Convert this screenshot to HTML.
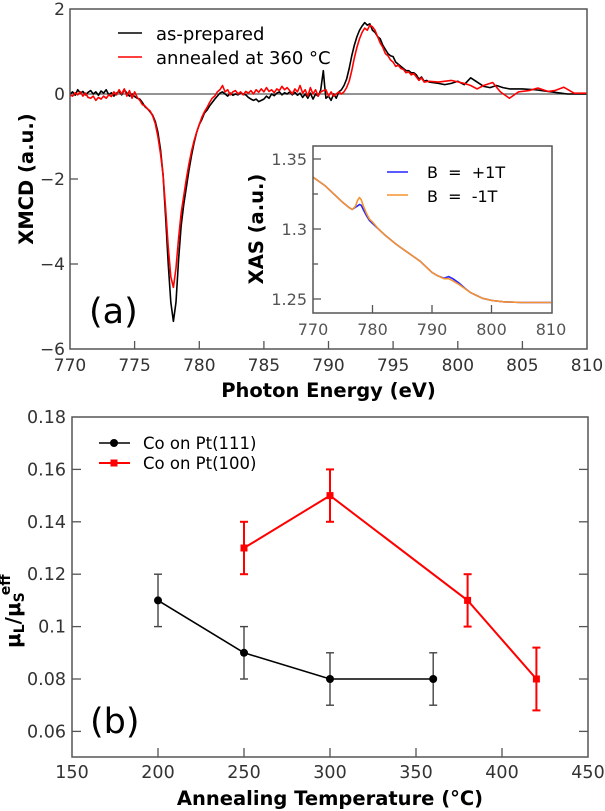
<!DOCTYPE html>
<html><head><meta charset="utf-8"><style>
html,body{margin:0;padding:0;background:#fff;}
svg{display:block;}
text{font-family:"DejaVu Sans","Liberation Sans",sans-serif;}
</style></head><body>
<svg width="605" height="811" viewBox="0 0 605 811" xmlns="http://www.w3.org/2000/svg">
<rect x="0" y="0" width="605" height="811" fill="#fff"/>

<!-- ===== Top panel (a) ===== -->
<line x1="70" y1="94" x2="587" y2="94" stroke="#555" stroke-width="1.2"/>
<g transform="translate(70,94) scale(12.925,-42.5) translate(-770,0)" fill="none" stroke-linejoin="round">
<polyline vector-effect="non-scaling-stroke" stroke="#000" stroke-width="1.6" points="770,0 770.2,0.05 770.4,-0.03 770.6,0.1 770.8,0.02 771,0.06 771.2,-0.02 771.4,0.04 771.6,0.08 771.8,0 772,0.05 772.2,-0.03 772.4,0.07 772.6,0.02 772.8,0.1 773,-0.02 773.2,0.03 773.4,-0.05 773.6,0.02 773.8,0.06 774,-0.02 774.2,0.1 774.4,0.02 774.6,-0.05 774.8,0 775,-0.06 775.2,-0.1 775.4,-0.12 775.6,-0.2 775.8,-0.3 776,-0.35 776.2,-0.42 776.4,-0.5 776.6,-0.65 776.8,-0.9 777,-1.3 777.2,-1.9 777.4,-2.9 777.6,-4.0 777.8,-4.9 778,-5.35 778.2,-4.9 778.4,-3.9 778.6,-3.1 778.8,-2.6 779,-2.2 779.2,-1.8 779.4,-1.45 779.6,-1.15 779.8,-0.9 780,-0.72 780.2,-0.6 780.4,-0.45 780.6,-0.38 780.8,-0.28 781,-0.2 781.2,-0.12 781.4,-0.05 781.6,0.02 781.8,0.05 782,0 782.2,-0.05 782.4,0.02 782.6,-0.03 782.8,0 783,-0.02 783.2,0.03 783.4,0 783.6,-0.02 783.8,-0.08 784,-0.12 784.2,-0.15 784.4,-0.12 784.6,-0.18 784.8,-0.15 785,-0.12 785.2,-0.05 785.4,-0.1 785.6,0 785.8,-0.04 786,0.02 786.2,0.05 786.4,-0.02 786.6,0.03 786.8,0 787,0.05 787.2,-0.02 787.4,0.04 787.6,-0.03 787.8,0.02 788,-0.08 788.2,0 788.4,-0.1 788.6,0.02 788.8,-0.12 789,0 789.2,-0.05 789.4,0.1 789.6,0.55 789.7,0.2 789.8,-0.1 790,-0.05 790.2,-0.15 790.4,0 790.6,-0.1 790.8,0.05 791,0.1 791.2,0.2 791.4,0.35 791.6,0.6 791.8,0.9 792,1.15 792.2,1.35 792.4,1.5 792.6,1.6 792.8,1.68 793,1.62 793.2,1.65 793.4,1.5 793.6,1.45 793.8,1.35 794,1.3 794.2,1.15 794.4,1.05 794.6,0.95 794.8,0.9 795,0.88 795.2,0.75 795.4,0.7 795.6,0.65 795.8,0.6 796,0.55 796.2,0.55 796.4,0.5 796.6,0.5 796.8,0.45 797,0.35 797.2,0.4 797.4,0.3 797.6,0.32 797.8,0.28 798.5,0.25 799,0.22 799.5,0.25 800,0.3 800.5,0.22 801,0.38 801.5,0.28 802,0.18 802.5,0.15 803,0.2 803.5,0.15 804,0.12 805,0.12 806,0.1 807,0.06 808,0.02 808.5,0 809,0 810,0"/>
<polyline vector-effect="non-scaling-stroke" stroke="#ff0000" stroke-width="1.6" points="770,-0.02 770.2,-0.05 770.4,0.03 770.6,-0.02 770.8,0.05 771,-0.05 771.2,0.02 771.4,-0.08 771.6,-0.1 771.8,-0.05 772,-0.15 772.2,-0.08 772.4,-0.12 772.6,-0.05 772.8,-0.1 773,-0.02 773.2,-0.06 773.4,0.05 773.6,-0.02 773.8,0.1 774,0 774.2,0.12 774.4,-0.05 774.6,0.08 774.8,-0.1 775,0.05 775.2,-0.08 775.4,-0.15 775.6,-0.25 775.8,-0.28 776,-0.35 776.2,-0.4 776.4,-0.52 776.6,-0.7 776.8,-1.0 777,-1.4 777.2,-1.9 777.4,-2.7 777.6,-3.6 777.8,-4.3 778,-4.55 778.2,-4.1 778.4,-3.4 778.6,-2.8 778.8,-2.4 779,-2.0 779.2,-1.65 779.4,-1.35 779.6,-1.1 779.8,-0.9 780,-0.72 780.2,-0.55 780.4,-0.42 780.6,-0.32 780.8,-0.2 781,-0.1 781.2,-0.05 781.4,0.05 781.6,0.1 781.8,0.2 782,0.05 782.2,0.1 782.4,-0.02 782.6,0.05 782.8,0.08 783,0 783.2,0.05 783.4,-0.02 783.6,0.06 783.8,0.02 784,0.08 784.2,0 784.4,0.1 784.6,0.04 784.8,0.12 785,0.05 785.2,0.15 785.4,0.06 785.6,0.1 785.8,0.03 786,0.12 786.2,0.08 786.4,0.18 786.6,0.1 786.8,0.15 787,0.08 787.2,0 787.4,0.12 787.6,0.05 787.8,0.2 788,0.02 788.2,0.1 788.4,-0.05 788.6,0.15 788.8,0 789,0.1 789.2,-0.05 789.4,0.05 789.6,0.08 789.8,0.1 790,-0.05 790.2,0.05 790.4,-0.05 790.6,0 790.8,0.05 791,0 791.2,0.05 791.4,0.15 791.6,0.3 791.8,0.55 792,0.85 792.2,1.1 792.4,1.3 792.6,1.45 792.8,1.55 793,1.5 793.2,1.62 793.4,1.58 793.6,1.5 793.8,1.35 794,1.2 794.2,1.1 794.4,0.95 794.6,0.9 794.8,0.8 795,0.75 795.2,0.65 795.4,0.68 795.6,0.6 795.8,0.58 796,0.5 796.2,0.52 796.4,0.45 796.6,0.48 796.8,0.4 797,0.32 797.2,0.38 797.4,0.28 797.8,0.3 798.5,0.28 799.5,0.32 800.5,0.25 801,0.2 801.5,0.12 802,0.2 802.7,0.27 803.3,0.05 804,-0.1 804.7,0.05 805.5,0.08 806.2,0.14 807,0.06 807.5,0.08 808.2,0.16 809,0.02 810,0.02"/>
</g>
<!-- frame -->
<rect x="70" y="9" width="517" height="340" fill="none" stroke="#555" stroke-width="1.5"/>
<!-- ticks -->
<g stroke="#555" stroke-width="1.3">
<line x1="70" y1="179" x2="78" y2="179"/><line x1="70" y1="264" x2="78" y2="264"/>
<line x1="134.6" y1="349" x2="134.6" y2="341"/><line x1="199.3" y1="349" x2="199.3" y2="341"/>
<line x1="263.9" y1="349" x2="263.9" y2="341"/><line x1="328.5" y1="349" x2="328.5" y2="341"/>
<line x1="393.1" y1="349" x2="393.1" y2="341"/><line x1="457.8" y1="349" x2="457.8" y2="341"/>
<line x1="522.4" y1="349" x2="522.4" y2="341"/>
</g>
<g font-size="17" fill="#333" text-anchor="end">
<text x="65" y="15">2</text><text x="65" y="100">0</text><text x="65" y="185">−2</text><text x="65" y="270">−4</text><text x="65" y="355">−6</text>
</g>
<g font-size="17" fill="#333" text-anchor="middle">
<text x="70" y="371">770</text><text x="134.6" y="371">775</text><text x="199.3" y="371">780</text><text x="263.9" y="371">785</text><text x="328.5" y="371">790</text><text x="393.1" y="371">795</text><text x="457.8" y="371">800</text><text x="522.4" y="371">805</text><text x="587" y="371">810</text>
</g>
<text x="328.5" y="397" font-size="19.5" font-weight="bold" text-anchor="middle" fill="#000">Photon Energy (eV)</text>
<text transform="translate(33,179) rotate(-90)" font-size="19.5" font-weight="bold" text-anchor="middle" fill="#000">XMCD (a.u.)</text>
<text x="89" y="323" font-size="35" fill="#000">(a)</text>
<!-- legend top -->
<line x1="118" y1="33" x2="142" y2="33" stroke="#000" stroke-width="1.6"/>
<line x1="118" y1="57" x2="142" y2="57" stroke="#ff0000" stroke-width="1.6"/>
<text x="156" y="40" font-size="18" fill="#000">as-prepared</text>
<text x="156" y="64" font-size="18" fill="#000">annealed at 360 °C</text>

<!-- ===== Inset ===== -->
<rect x="313" y="146" width="239" height="167" fill="#fff"/>
<g transform="translate(313,159) scale(5.95,-1400) translate(-770,-1.35)" fill="none" stroke-linejoin="round">
<polyline vector-effect="non-scaling-stroke" stroke="#2424ff" stroke-width="1.6" points="770,1.337 771,1.334 772,1.331 773,1.327 774,1.323 775,1.319 776,1.3155 776.6,1.314 777.1,1.3155 777.5,1.3165 777.8,1.3175 778.1,1.317 778.5,1.3135 779,1.3095 779.5,1.306 780,1.304 781,1.3 782,1.296 783,1.2925 784,1.289 785,1.286 786,1.283 787,1.28 788,1.277 789,1.273 790,1.269 791,1.2665 792,1.2648 792.8,1.266 793.5,1.2645 794.5,1.2615 795.5,1.2578 796.5,1.2545 797.5,1.2525 798.5,1.2505 800,1.249 802,1.248 805,1.2475 810,1.2475"/>
<polyline vector-effect="non-scaling-stroke" stroke="#f5922f" stroke-width="1.6" points="770,1.337 771,1.334 772,1.331 773,1.327 774,1.323 775,1.319 776,1.3155 776.6,1.314 777.1,1.316 777.5,1.3205 777.8,1.3225 778.1,1.321 778.5,1.316 779,1.311 779.5,1.307 780,1.305 781,1.3 782,1.296 783,1.2925 784,1.289 785,1.286 786,1.283 787,1.28 788,1.277 789,1.273 790,1.269 791,1.2665 792,1.2645 792.8,1.2645 793.5,1.263 794.5,1.2605 795.5,1.2575 796.5,1.2545 797.5,1.2525 798.5,1.2505 800,1.249 802,1.248 805,1.2475 810,1.2475"/>
</g>
<rect x="313" y="146" width="239" height="167" fill="none" stroke="#555" stroke-width="1.5"/>
<g stroke="#555" stroke-width="1.3">
<line x1="313" y1="159" x2="321" y2="159"/><line x1="313" y1="229" x2="321" y2="229"/><line x1="313" y1="299" x2="321" y2="299"/>
<line x1="313" y1="194" x2="318" y2="194"/><line x1="313" y1="264" x2="318" y2="264"/>
<line x1="372.5" y1="313" x2="372.5" y2="305"/><line x1="432" y1="313" x2="432" y2="305"/><line x1="491.5" y1="313" x2="491.5" y2="305"/>
</g>
<g font-size="16" fill="#555" text-anchor="end">
<text x="307" y="165">1.35</text><text x="307" y="235">1.3</text><text x="307" y="305">1.25</text>
</g>
<g font-size="16" fill="#555" text-anchor="middle">
<text x="313" y="335">770</text><text x="372.5" y="335">780</text><text x="432" y="335">790</text><text x="491.5" y="335">800</text><text x="551" y="335">810</text>
</g>
<text transform="translate(263,229) rotate(-90)" font-size="19.5" font-weight="bold" text-anchor="middle" fill="#000">XAS (a.u.)</text>
<line x1="387" y1="172" x2="408" y2="172" stroke="#2424ff" stroke-width="1.6"/>
<line x1="387" y1="195" x2="408" y2="195" stroke="#f5922f" stroke-width="1.6"/>
<text x="427" y="178" font-size="16" fill="#000" style="white-space:pre" xml:space="preserve">B  =  +1T</text>
<text x="427" y="202" font-size="16" fill="#000" style="white-space:pre" xml:space="preserve">B  =  -1T</text>

<!-- ===== Bottom panel (b) ===== -->
<rect x="72" y="417" width="516" height="340" fill="none" stroke="#555" stroke-width="1.5"/>
<g stroke="#555" stroke-width="1.3">
<line x1="72" y1="469.4" x2="81" y2="469.4"/><line x1="72" y1="521.8" x2="81" y2="521.8"/><line x1="72" y1="574.2" x2="81" y2="574.2"/><line x1="72" y1="626.6" x2="81" y2="626.6"/><line x1="72" y1="679" x2="81" y2="679"/><line x1="72" y1="731.4" x2="81" y2="731.4"/>
<line x1="588" y1="469.4" x2="579" y2="469.4"/><line x1="588" y1="521.8" x2="579" y2="521.8"/><line x1="588" y1="574.2" x2="579" y2="574.2"/><line x1="588" y1="626.6" x2="579" y2="626.6"/><line x1="588" y1="679" x2="579" y2="679"/><line x1="588" y1="731.4" x2="579" y2="731.4"/>
<line x1="158" y1="757" x2="158" y2="748"/><line x1="244" y1="757" x2="244" y2="748"/><line x1="330" y1="757" x2="330" y2="748"/><line x1="416" y1="757" x2="416" y2="748"/><line x1="502" y1="757" x2="502" y2="748"/>
</g>
<g font-size="17.5" fill="#333" text-anchor="end">
<text x="66" y="423">0.18</text><text x="66" y="475.4">0.16</text><text x="66" y="527.8">0.14</text><text x="66" y="580.2">0.12</text><text x="66" y="632.6">0.1</text><text x="66" y="685">0.08</text><text x="66" y="737.4">0.06</text>
</g>
<g font-size="17.5" fill="#333" text-anchor="middle">
<text x="72" y="778">150</text><text x="158" y="778">200</text><text x="244" y="778">250</text><text x="330" y="778">300</text><text x="416" y="778">350</text><text x="502" y="778">400</text><text x="588" y="778">450</text>
</g>
<text x="330" y="805" font-size="19.5" font-weight="bold" text-anchor="middle" fill="#000">Annealing Temperature (°C)</text>
<text transform="translate(20,648) rotate(-90)" font-size="20" font-weight="bold" fill="#000">μ<tspan font-size="14" dy="4">L</tspan><tspan dy="-4">/μ</tspan><tspan font-size="14" dy="4">S</tspan><tspan font-size="14" dx="-3" dy="-14">eff</tspan></text>
<text x="90" y="733" font-size="35" fill="#000">(b)</text>

<!-- black series -->
<g stroke="#444" stroke-width="1.4">
<line x1="158" y1="574.2" x2="158" y2="626.6"/><line x1="154" y1="574.2" x2="162" y2="574.2"/><line x1="154" y1="626.6" x2="162" y2="626.6"/>
<line x1="244" y1="626.6" x2="244" y2="679"/><line x1="240" y1="626.6" x2="248" y2="626.6"/><line x1="240" y1="679" x2="248" y2="679"/>
<line x1="330" y1="652.8" x2="330" y2="705.2"/><line x1="326" y1="652.8" x2="334" y2="652.8"/><line x1="326" y1="705.2" x2="334" y2="705.2"/>
<line x1="433.2" y1="652.8" x2="433.2" y2="705.2"/><line x1="429.2" y1="652.8" x2="437.2" y2="652.8"/><line x1="429.2" y1="705.2" x2="437.2" y2="705.2"/>
</g>
<polyline fill="none" stroke="#000" stroke-width="1.6" points="158,600.4 244,652.8 330,679 433.2,679"/>
<g fill="#000"><circle cx="158" cy="600.4" r="4"/><circle cx="244" cy="652.8" r="4"/><circle cx="330" cy="679" r="4"/><circle cx="433.2" cy="679" r="4"/></g>

<!-- red series -->
<g stroke="#ff0000" stroke-width="2">
<line x1="244" y1="521.8" x2="244" y2="574.2"/><line x1="240" y1="521.8" x2="248" y2="521.8"/><line x1="240" y1="574.2" x2="248" y2="574.2"/>
<line x1="330" y1="469.4" x2="330" y2="521.8"/><line x1="326" y1="469.4" x2="334" y2="469.4"/><line x1="326" y1="521.8" x2="334" y2="521.8"/>
<line x1="467.6" y1="574.2" x2="467.6" y2="626.6"/><line x1="463.6" y1="574.2" x2="471.6" y2="574.2"/><line x1="463.6" y1="626.6" x2="471.6" y2="626.6"/>
<line x1="536.4" y1="647.6" x2="536.4" y2="710.4"/><line x1="532.4" y1="647.6" x2="540.4" y2="647.6"/><line x1="532.4" y1="710.4" x2="540.4" y2="710.4"/>
</g>
<polyline fill="none" stroke="#ff0000" stroke-width="2" points="244,548 330,495.6 467.6,600.4 536.4,679"/>
<g fill="#ff0000"><rect x="240.5" y="544.5" width="7" height="7"/><rect x="326.5" y="492.1" width="7" height="7"/><rect x="464.1" y="596.9" width="7" height="7"/><rect x="532.9" y="675.5" width="7" height="7"/></g>

<!-- legend bottom -->
<line x1="99" y1="443" x2="130" y2="443" stroke="#000" stroke-width="1.6"/>
<circle cx="114" cy="443" r="4" fill="#000"/>
<line x1="99" y1="463" x2="130" y2="463" stroke="#ff0000" stroke-width="2"/>
<rect x="110.5" y="459.5" width="7" height="7" fill="#ff0000"/>
<text x="143" y="449" font-size="16.5" fill="#000">Co on Pt(111)</text>
<text x="143" y="469" font-size="16.5" fill="#000">Co on Pt(100)</text>
</svg>
</body></html>
